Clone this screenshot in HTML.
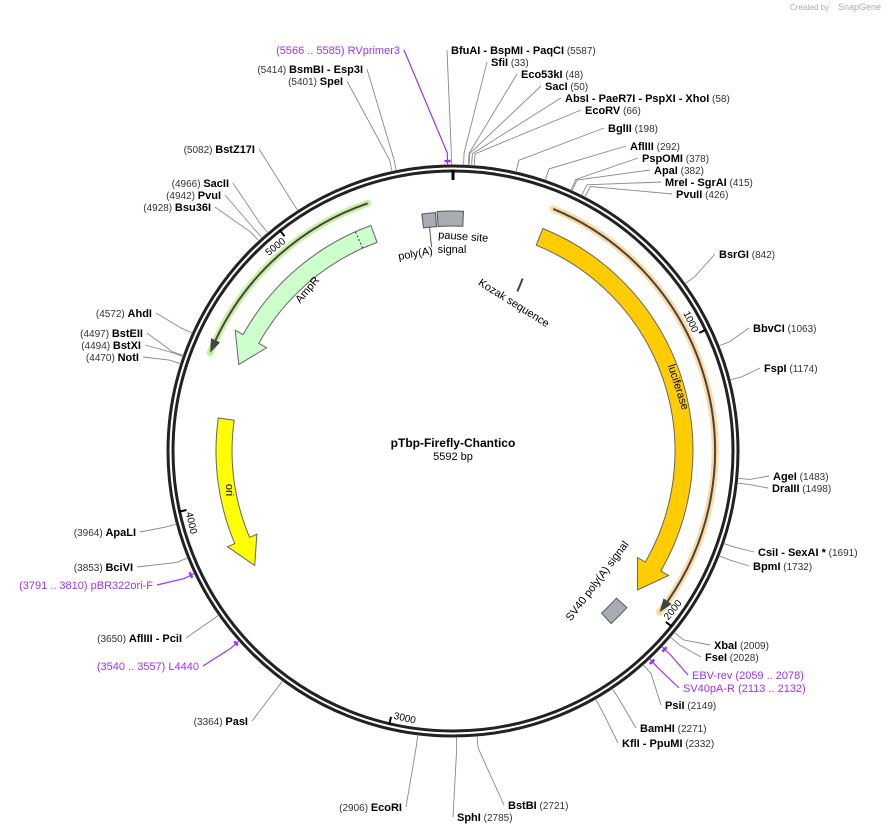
<!DOCTYPE html>
<html><head><meta charset="utf-8"><style>
body{margin:0;background:#fff;width:888px;height:834px;overflow:hidden}
svg{font-family:"Liberation Sans","DejaVu Sans",sans-serif}
.n{font-weight:bold;font-size:11px;fill:#000}
.p{font-size:10px;fill:#333}
.pr{font-size:11px;fill:#9933ff}
.f{font-size:11px;fill:#000}
</style></head><body>
<svg id="s" width="888" height="834" viewBox="0 0 888 834" xmlns="http://www.w3.org/2000/svg">
<text x="790" y="10" font-size="8" fill="#aaa">Created by</text><text x="838" y="10" font-size="9" fill="#aaa">SnapGene</text>
<g id="g"></g>
<text x="453" y="447" text-anchor="middle" font-weight="bold" font-size="12">pTbp-Firefly-Chantico</text>
<text x="453" y="460" text-anchor="middle" font-size="11">5592 bp</text>
</svg>
<script>
var CX=453,CY=451,N=5592,g=document.getElementById('g'),h='';
function pt(a,r){var t=a*Math.PI/180;return [CX+r*Math.sin(t),CY-r*Math.cos(t)];}
function ang(p){return p/N*360;}
function P(a,r){var q=pt(a,r);return q[0].toFixed(1)+' '+q[1].toFixed(1);}
function arc(a1,a2,r){var sw=a2>a1?1:0,lg=Math.abs(a2-a1)>180?1:0;return 'A'+r+' '+r+' 0 '+lg+' '+sw+' '+P(a2,r);}
function band(a1,a2,ri,ro,head,fill,stroke){
 var dir=a2>a1?1:-1,ab=a2-dir*head,rm=(ri+ro)/2,w=(ro-ri);
 var d='M'+P(a1,ri)+'L'+P(a1,ro)+arc(a1,ab,ro)+'L'+P(ab,ro+w*0.5)+'L'+P(a2,rm)+'L'+P(ab,ri-w*0.5)+'L'+P(ab,ri)+arc(ab,a1,ri)+'Z';
 h+='<path d="'+d+'" fill="'+fill+'" stroke="'+stroke+'" stroke-width="1"/>';}
function box(a1,a2,ri,ro,fill){h+='<path d="M'+P(a1,ri)+'L'+P(a1,ro)+arc(a1,a2,ro)+'L'+P(a2,ri)+arc(a2,a1,ri)+'Z" fill="'+fill+'" stroke="#555" stroke-width="1"/>';}
function thin(a1,a2,r,halo){var dir=a2>a1?1:-1,ab=a2-dir*3;
 h+='<path d="M'+P(a1,r)+arc(a1,a2,r)+'" fill="none" stroke="'+halo+'" stroke-width="7" stroke-linecap="round"/>';
 h+='<path d="M'+P(a1,r)+arc(a1,ab,r)+'" fill="none" stroke="#444" stroke-width="2"/>';
 h+='<path d="M'+P(ab,r+5)+'L'+P(a2,r)+'L'+P(ab,r-5)+'Z" fill="#444"/>';}
// ring
h+='<circle cx="'+CX+'" cy="'+CY+'" r="285" fill="none" stroke="#222" stroke-width="3"/>';
h+='<circle cx="'+CX+'" cy="'+CY+'" r="280" fill="none" stroke="#222" stroke-width="3"/>';
// ticks
h+='<path d="M'+P(0,281)+'L'+P(0,271)+'" stroke="#000" stroke-width="3"/>';
[1000,2000,3000,4000,5000].forEach(function(v){var a=ang(v);h+='<path d="M'+P(a,281)+'L'+P(a,273)+'" stroke="#000" stroke-width="2"/>';
 var q=pt(a-2.9,271),rot=a%180;if(rot>90)rot-=180;
 h+='<text transform="translate('+q[0].toFixed(1)+','+q[1].toFixed(1)+') rotate('+rot.toFixed(1)+')" font-size="10" text-anchor="middle" dy="3.5">'+v+'</text>';});
// features
thin(22.5,128,262,'#ffd9a0');
band(22,127,222,240,7,'#ffcc00','#666');
thin(-19,-68,262,'#c8f0a0');
band(-20,-68,222,240,7,'#ccffcc','#666');
h+='<path d="M'+P(-24,222)+'L'+P(-24,240)+'" stroke="#333" stroke-dasharray="2,2"/>';
band(-82,-120,221,237,7,'#ffff00','#666');
box(-7.5,-4.2,225,239,'#a8adb5');box(-3.8,2.5,225,240,'#a8adb5');
h+='<path d="M'+P(-6,225)+'L'+P(-6,205)+'" stroke="#555"/>';
box(132,137.5,220,234,'#a8adb5');
h+='<path d="M'+P(22,172)+'L'+P(22,186)+'" stroke="#444" stroke-width="2"/>';
// feature labels
function rt(x,y,r,t,cls){h+='<text class="'+(cls||'f')+'" transform="translate('+x+','+y+') rotate('+r+')" text-anchor="middle">'+t+'</text>';}
rt(675,388,72,'luciferase');rt(226,490,90,'ori');rt(310,292,-50,'AmpR');rt(600,583,-53,'SV40 poly(A) signal');
rt(463,240,4,'pause site');rt(452,253,0,'signal');rt(416,257,-10,'poly(A)');rt(512,306,32,'Kozak sequence');
// sites
function site(pos,x,y,side,parts,purple){
 var a=ang(pos),q1=pt(a,286),q2=pt(a,298),ax=side?x-4:x+4,ay=y-4,col=purple?'#9933ff':'#888';
 h+='<path d="M'+q1[0]+' '+q1[1]+'L'+q2[0]+' '+q2[1]+'L'+ax+' '+ay+'" fill="none" stroke="'+col+'" stroke-width="'+(purple?1.2:0.9)+'"/>';
 h+='<text x="'+x+'" y="'+y+'" text-anchor="'+(side?'start':'end')+'">'+parts+'</text>';}
function B(t){return '<tspan class="n">'+t+'</tspan>';}function Q(t){return '<tspan class="p">'+t+'</tspan>';}
function R(t){return '<tspan class="pr">'+t+'</tspan>';}
site(5587,451,54,1,B('BfuAI')+B('  - BspMI')+B('  - PaqCI')+Q('   (5587)'));
site(33,491,66,1,B('SfiI')+Q('   (33)'));
site(48,521,78,1,B('Eco53kI')+Q('   (48)'));
site(50,545,90,1,B('SacI')+Q('   (50)'));
site(58,565,102,1,B('AbsI')+B('  - PaeR7I')+B('  - PspXI')+B('  - XhoI')+Q('   (58)'));
site(66,585,114,1,B('EcoRV')+Q('   (66)'));
site(198,608,132,1,B('BglII')+Q('   (198)'));
site(292,630,150,1,B('AflIII')+Q('   (292)'));
site(378,642,162,1,B('PspOMI')+Q('   (378)'));
site(382,654,174,1,B('ApaI')+Q('   (382)'));
site(415,665,186,1,B('MreI')+B('  - SgrAI')+Q('   (415)'));
site(426,676,198,1,B('PvuII')+Q('   (426)'));
site(842,719,258,1,B('BsrGI')+Q('   (842)'));
site(1063,753,332,1,B('BbvCI')+Q('   (1063)'));
site(1174,764,372,1,B('FspI')+Q('   (1174)'));
site(1483,773,480,1,B('AgeI')+Q('   (1483)'));
site(1498,772,492,1,B('DraIII')+Q('   (1498)'));
site(1691,758,556,1,B('CsiI')+B('  - SexAI *')+Q('   (1691)'));
site(1732,753,570,1,B('BpmI')+Q('   (1732)'));
site(2009,714,649,1,B('XbaI')+Q('   (2009)'));
site(2028,705,661,1,B('FseI')+Q('   (2028)'));
site(2068,692,679,1,R('EBV-rev')+R('   (2059 .. 2078)'),1);
site(2122,683,692,1,R('SV40pA-R')+R('   (2113 .. 2132)'),1);
site(2149,665,709,1,B('PsiI')+Q('   (2149)'));
site(2271,640,732,1,B('BamHI')+Q('   (2271)'));
site(2332,622,747,1,B('KflI')+B('  - PpuMI')+Q('   (2332)'));
site(2721,508,809,1,B('BstBI')+Q('   (2721)'));
site(2785,457,821,1,B('SphI')+Q('   (2785)'));
site(2906,402,811,0,Q('(2906)   ')+B('EcoRI'));
site(3364,248,725,0,Q('(3364)   ')+B('PasI'));
site(3548,199,670,0,R('(3540 .. 3557)   ')+R('L4440'),1);
site(3650,182,642,0,Q('(3650)   ')+B('AflIII')+B('  - PciI'));
site(3800,153,589,0,R('(3791 .. 3810)   ')+R('pBR322ori-F'),1);
site(3853,133,571,0,Q('(3853)   ')+B('BciVI'));
site(3964,136,536,0,Q('(3964)   ')+B('ApaLI'));
site(4470,139,361,0,Q('(4470)   ')+B('NotI'));
site(4494,141,349,0,Q('(4494)   ')+B('BstXI'));
site(4497,143,337,0,Q('(4497)   ')+B('BstEII'));
site(4572,152,317,0,Q('(4572)   ')+B('AhdI'));
site(4928,211,211,0,Q('(4928)   ')+B('Bsu36I'));
site(4942,221,199,0,Q('(4942)   ')+B('PvuI'));
site(4966,229,187,0,Q('(4966)   ')+B('SacII'));
site(5082,255,153,0,Q('(5082)   ')+B('BstZ17I'));
site(5401,343,85,0,Q('(5401)   ')+B('SpeI'));
site(5414,363,73,0,Q('(5414)   ')+B('BsmBI')+B('   - Esp3I'));
site(5575,400,54,0,R('(5566 .. 5585)   ')+R('RVprimer3'),1);
// primer marks
[[5566,5585],[2059,2078],[2113,2132],[3791,3810],[3540,3557]].forEach(function(p){var a1=ang(p[0]),a2=ang(p[1]);
 h+='<path d="M'+P(a1,290)+arc(a1,a2,290)+'" fill="none" stroke="#9933ff" stroke-width="2.5"/>';});
g.innerHTML=h;
</script>
</body></html>
